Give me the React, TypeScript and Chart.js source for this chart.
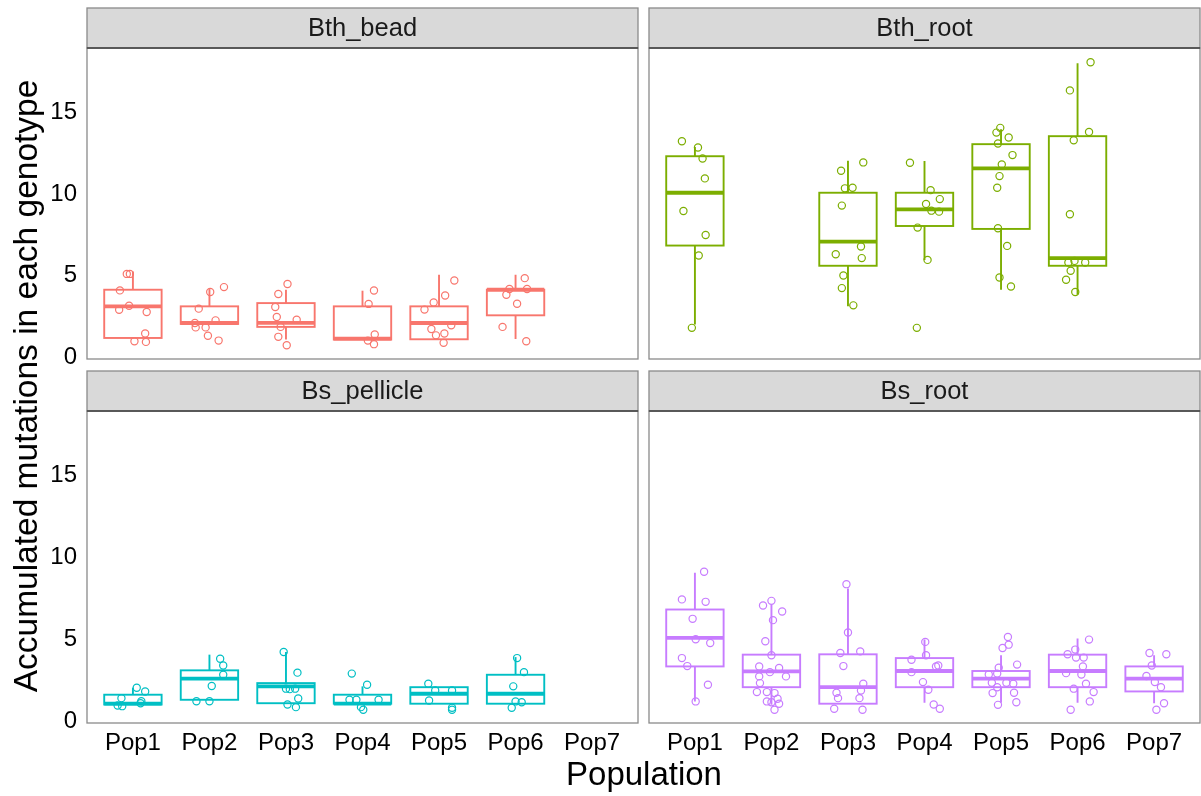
import React, { useEffect, useRef } from 'react';
import { Chart, registerables } from 'chart.js';
Chart.register(...registerables);

// ---------------- data ----------------
const categories = ['Pop1', 'Pop2', 'Pop3', 'Pop4', 'Pop5', 'Pop6', 'Pop7'];
const yTickValues = [0, 5, 10, 15];
const yMin = -0.12;
const yMax = 18.96;
const xTitle = 'Population';
const yTitle = 'Accumulated mutations in each genotype';
const facetNames = ['Bth_bead', 'Bth_root', 'Bs_pellicle', 'Bs_root'];

// box stats per population: [lower whisker, q1, median, q3, upper whisker]
const bthBeadBoxes: (number[] | null)[] = [
  [1.15, 1.17, 3.11, 4.13, 5.25],
  [2.03, 2.03, 2.09, 3.11, 4.17],
  [1.07, 1.85, 2.1, 3.31, 4.13],
  [1.07, 1.07, 1.13, 3.11, 4.07],
  [1.09, 1.09, 2.09, 3.11, 5.05],
  [1.1, 2.56, 4.13, 4.13, 5.05],
  null,
];
// jittered points: [population index, horizontal jitter, value]
const bthBeadPoints: number[][] = [
  [1, -0.08, 5.1], [1, -0.04, 5.1], [1, -0.17, 4.09], [1, -0.05, 3.15], [1, -0.18, 2.9], [1, 0.18, 2.76], [1, 0.16, 1.44], [1, 0.02, 0.97], [1, 0.17, 0.93],
  [2, 0.01, 3.99], [2, 0.19, 4.29], [2, -0.14, 2.97], [2, 0.08, 2.25], [2, -0.19, 2.09], [2, -0.18, 1.82], [2, -0.05, 1.82], [2, -0.02, 1.31], [2, 0.12, 1.01],
  [3, 0.02, 4.48], [3, -0.1, 3.87], [3, -0.14, 3.07], [3, -0.12, 2.46], [3, 0.14, 2.29], [3, -0.07, 1.85], [3, -0.1, 1.24], [3, 0.01, 0.72],
  [4, 0.15, 4.08], [4, 0.08, 3.26], [4, 0.16, 1.38], [4, 0.07, 1.01], [4, 0.15, 0.79],
  [5, 0.2, 4.7], [5, 0.08, 3.78], [5, -0.07, 3.35], [5, -0.19, 2.91], [5, 0.16, 1.95], [5, -0.1, 1.72], [5, 0.07, 1.44], [5, -0.04, 1.33], [5, 0.06, 0.87],
  [6, 0.12, 4.84], [6, -0.08, 4.17], [6, 0.15, 4.17], [6, -0.12, 3.82], [6, 0.02, 3.27], [6, -0.17, 1.85], [6, 0.14, 0.97],
];

const bthRootBoxes: (number[] | null)[] = [
  [2.0, 6.84, 10.08, 12.32, 12.89],
  null,
  [3.11, 5.6, 7.08, 10.08, 12.04],
  [5.96, 8.04, 9.06, 10.08, 12.02],
  [4.13, 7.86, 11.57, 13.06, 13.98],
  [3.82, 5.6, 6.07, 13.55, 18.03],
  null,
];
const bthRootPoints: number[][] = [
  [1, -0.17, 13.24], [1, 0.04, 12.86], [1, 0.1, 12.18], [1, 0.13, 10.96], [1, -0.15, 8.96], [1, 0.14, 7.49], [1, 0.05, 6.23], [1, -0.04, 1.79],
  [3, 0.2, 11.94], [3, -0.09, 11.43], [3, -0.04, 10.35], [3, 0.06, 10.39], [3, -0.08, 9.29], [3, 0.17, 6.78], [3, -0.16, 6.31], [3, 0.18, 6.07], [3, -0.06, 5.0], [3, -0.08, 4.23], [3, 0.07, 3.17],
  [4, -0.19, 11.92], [4, 0.08, 10.24], [4, 0.2, 9.69], [4, 0.02, 9.39], [4, 0.09, 8.98], [4, 0.19, 8.92], [4, -0.09, 7.94], [4, 0.04, 5.96], [4, -0.1, 1.79],
  [5, -0.01, 14.06], [5, -0.06, 13.77], [5, 0.1, 13.47], [5, -0.04, 13.1], [5, 0.15, 12.39], [5, 0.01, 11.81], [5, -0.02, 11.1], [5, -0.05, 10.39], [5, -0.04, 7.9], [5, 0.08, 6.82], [5, -0.02, 4.88], [5, 0.13, 4.33],
  [6, 0.17, 18.09], [6, -0.1, 16.36], [6, 0.15, 13.81], [6, -0.05, 13.3], [6, -0.1, 8.76], [6, -0.12, 5.8], [6, -0.04, 5.9], [6, 0.1, 5.8], [6, -0.09, 5.29], [6, -0.15, 4.74], [6, -0.03, 3.99],
];

const bsPellicleBoxes: (number[] | null)[] = [
  [1.01, 1.01, 1.06, 1.61, 2.04],
  [1.3, 1.3, 2.59, 3.1, 4.06],
  [1.09, 1.09, 2.12, 2.32, 4.22],
  [1.06, 1.06, 1.06, 1.61, 2.12],
  [1.06, 1.06, 1.67, 2.07, 2.07],
  [1.06, 1.06, 1.67, 2.83, 3.91],
  null,
];
const bsPelliclePoints: number[][] = [
  [1, 0.05, 2.04], [1, 0.16, 1.81], [1, -0.15, 1.4], [1, 0.11, 1.21], [1, 0.1, 1.09], [1, -0.2, 0.95], [1, -0.14, 0.91],
  [2, 0.14, 3.81], [2, 0.18, 3.4], [2, 0.18, 2.83], [2, 0.03, 2.14], [2, -0.17, 1.21], [2, 0.0, 1.21],
  [3, -0.03, 4.22], [3, 0.15, 2.96], [3, 0.0, 1.98], [3, 0.05, 1.95], [3, 0.12, 1.98], [3, 0.16, 1.38], [3, 0.02, 1.01], [3, 0.13, 0.85],
  [4, -0.14, 2.9], [4, 0.06, 2.22], [4, -0.17, 1.3], [4, -0.08, 1.3], [4, 0.21, 1.3], [4, -0.02, 0.85], [4, 0.01, 0.69],
  [5, -0.14, 2.28], [5, -0.05, 1.87], [5, 0.17, 1.87], [5, -0.13, 1.26], [5, 0.17, 0.81], [5, 0.17, 0.69],
  [6, 0.02, 3.85], [6, 0.11, 2.99], [6, -0.03, 2.12], [6, 0.0, 1.2], [6, 0.08, 1.15], [6, -0.05, 0.81],
];

const bsRootBoxes: (number[] | null)[] = [
  [1.2, 3.34, 5.08, 6.82, 9.07],
  [1.0, 2.07, 3.04, 4.06, 7.09],
  [1.06, 1.06, 2.07, 4.08, 8.11],
  [1.12, 2.07, 3.06, 3.85, 4.98],
  [1.12, 2.07, 2.59, 3.06, 4.02],
  [1.12, 2.07, 3.06, 4.06, 5.04],
  [1.09, 1.81, 2.59, 3.34, 4.02],
];
const bsRootPoints: number[][] = [
  [1, 0.12, 9.13], [1, -0.17, 7.44], [1, 0.14, 7.29], [1, -0.03, 6.25], [1, 0.01, 5.0], [1, 0.2, 4.77], [1, -0.17, 3.85], [1, -0.1, 3.36], [1, 0.17, 2.22], [1, 0.01, 1.2],
  [2, 0.0, 7.35], [2, -0.11, 7.07], [2, 0.14, 6.7], [2, 0.02, 6.17], [2, -0.08, 4.88], [2, 0.0, 4.02], [2, -0.16, 3.34], [2, -0.02, 2.99], [2, 0.1, 3.24], [2, 0.19, 2.73],
  [2, -0.16, 2.73], [2, -0.15, 2.32], [2, -0.19, 1.77], [2, -0.06, 1.77], [2, 0.04, 1.71], [2, 0.08, 1.36], [2, -0.06, 1.2], [2, 0.0, 1.15], [2, 0.1, 1.06], [2, 0.04, 0.69],
  [3, -0.02, 8.37], [3, 0.0, 5.41], [3, -0.1, 4.16], [3, 0.16, 4.26], [3, -0.06, 3.36], [3, 0.2, 2.28], [3, -0.15, 1.73], [3, 0.17, 1.87], [3, -0.13, 1.4], [3, 0.15, 1.4], [3, -0.18, 0.75], [3, 0.19, 0.69],
  [4, 0.01, 4.84], [4, 0.02, 4.02], [4, -0.17, 3.75], [4, 0.15, 3.34], [4, 0.18, 3.4], [4, -0.17, 2.99], [4, -0.02, 2.38], [4, 0.05, 1.91], [4, 0.12, 1.01], [4, 0.2, 0.75],
  [5, 0.09, 5.14], [5, 0.1, 4.67], [5, 0.02, 4.47], [5, 0.21, 3.45], [5, -0.03, 3.26], [5, -0.16, 2.85], [5, -0.05, 2.9], [5, -0.12, 2.34], [5, 0.07, 2.34], [5, 0.16, 2.28], [5, -0.05, 2.07], [5, -0.11, 1.71], [5, 0.17, 1.73], [5, 0.2, 1.15], [5, -0.04, 0.99],
  [6, 0.15, 4.98], [6, -0.03, 4.37], [6, -0.13, 4.08], [6, 0.08, 3.88], [6, -0.02, 3.88], [6, 0.07, 3.34], [6, 0.05, 2.85], [6, -0.15, 2.93], [6, 0.11, 2.28], [6, -0.05, 1.98], [6, 0.21, 1.77], [6, 0.16, 1.2], [6, -0.09, 0.69],
  [7, -0.06, 4.16], [7, 0.16, 4.08], [7, -0.03, 3.4], [7, -0.1, 2.75], [7, 0.01, 2.38], [7, 0.09, 2.07], [7, 0.13, 1.09], [7, 0.03, 0.69],
];

// ---------------- style ----------------
const FONT = '"Liberation Sans", Arial, Helvetica, sans-serif';
const facetColors = ['#F8766D', '#7CAE00', '#00BFC4', '#C77CFF'];
const BOX_HALF = 0.375;
const STRIP_H = 40;

type Rect = { left: number; top: number; w: number; h: number };
type Area = { l: number; t: number; r: number; b: number };

const facetPlugin = {
  id: 'facet',
  beforeDatasetsDraw(chart: any, _args: any, opts: any) {
    const { ctx, scales } = chart;
    const x = scales.x;
    const y = scales.y;
    ctx.save();
    ctx.strokeStyle = opts.color;
    ctx.lineCap = 'butt';
    (opts.boxes as (number[] | null)[]).forEach((b, i) => {
      if (!b) return;
      const [lo, q1, med, q3, hi] = b;
      const xc = x.getPixelForValue(i + 1);
      const xl = x.getPixelForValue(i + 1 - BOX_HALF);
      const xr = x.getPixelForValue(i + 1 + BOX_HALF);
      const pLo = y.getPixelForValue(lo);
      const pQ1 = y.getPixelForValue(q1);
      const pMed = y.getPixelForValue(med);
      const pQ3 = y.getPixelForValue(q3);
      const pHi = y.getPixelForValue(hi);
      ctx.lineWidth = 1.9;
      ctx.beginPath();
      ctx.moveTo(xc, pQ3);
      ctx.lineTo(xc, pHi);
      ctx.moveTo(xc, pQ1);
      ctx.lineTo(xc, pLo);
      ctx.stroke();
      ctx.strokeRect(xl, pQ3, xr - xl, pQ1 - pQ3);
      ctx.lineWidth = 3.8;
      ctx.beginPath();
      ctx.moveTo(xl, pMed);
      ctx.lineTo(xr, pMed);
      ctx.stroke();
    });
    ctx.restore();
  },
  afterDraw(chart: any, _args: any, opts: any) {
    const { ctx, chartArea } = chart;
    const { left, right, top, bottom } = chartArea;
    ctx.save();
    const sTop = top - STRIP_H;
    ctx.fillStyle = '#D9D9D9';
    ctx.fillRect(left, sTop, right - left, STRIP_H);
    ctx.strokeStyle = '#8a8a8a';
    ctx.lineWidth = 1.3;
    ctx.strokeRect(left, sTop, right - left, STRIP_H);
    ctx.fillStyle = '#1A1A1A';
    ctx.font = `25.5px ${FONT}`;
    ctx.textAlign = 'center';
    ctx.textBaseline = 'middle';
    ctx.fillText(opts.title, (left + right) / 2, sTop + STRIP_H / 2 + 1);
    ctx.strokeStyle = '#8a8a8a';
    ctx.lineWidth = 1.3;
    ctx.strokeRect(left, top, right - left, bottom - top);
    ctx.strokeStyle = '#444444';
    ctx.lineWidth = 1.5;
    ctx.beginPath();
    ctx.moveTo(left, top);
    ctx.lineTo(right, top);
    ctx.stroke();
    ctx.restore();
  },
};

type PanelProps = {
  title: string;
  color: string;
  boxes: (number[] | null)[];
  points: number[][];
  canvas: Rect;
  area: Area;
  showX: boolean;
  showY: boolean;
};

const X_AXIS_H = 40;

function Panel({ title, color, boxes, points, canvas, area, showX, showY }: PanelProps) {
  const ref = useRef<HTMLCanvasElement>(null);
  useEffect(() => {
    if (!ref.current) return;
    const ax = {
      l: area.l - canvas.left,
      t: area.t - canvas.top,
      r: area.r - canvas.left,
      b: area.b - canvas.top,
    };
    const padding = {
      left: showY ? 0 : ax.l,
      top: ax.t,
      right: canvas.w - ax.r,
      bottom: showX ? canvas.h - ax.b - X_AXIS_H : canvas.h - ax.b,
    };
    const zeroPad = (s: any) => {
      s.paddingLeft = 0;
      s.paddingRight = 0;
      s.paddingTop = 0;
      s.paddingBottom = 0;
    };
    const chart = new Chart(ref.current, {
      type: 'scatter',
      data: {
        datasets: [
          {
            data: points.map((p) => ({ x: p[0] + p[1], y: p[2] })),
            pointStyle: 'circle',
            pointRadius: 3.6,
            pointBorderWidth: 1.2,
            pointBackgroundColor: 'rgba(0,0,0,0)',
            pointBorderColor: color,
            showLine: false,
          } as any,
        ],
      },
      options: {
        animation: false,
        responsive: false,
        maintainAspectRatio: false,
        devicePixelRatio: 1,
        events: [],
        layout: { padding, autoPadding: false },
        plugins: {
          legend: { display: false },
          tooltip: { enabled: false },
          facet: { title, color, boxes },
        } as any,
        scales: {
          x: {
            type: 'linear',
            min: 0.4,
            max: 7.6,
            display: showX,
            grid: { display: false, drawTicks: false, tickLength: 0 },
            border: { display: false },
            afterBuildTicks: (s: any) => {
              s.ticks = categories.map((_, i) => ({ value: i + 1 }));
            },
            afterFit: (s: any) => {
              s.height = showX ? X_AXIS_H : 0;
              zeroPad(s);
            },
            ticks: {
              autoSkip: false,
              maxRotation: 0,
              minRotation: 0,
              padding: 6,
              color: '#000000',
              font: { family: FONT, size: 24 },
              callback: (v: any) => categories[Math.round(Number(v)) - 1] ?? '',
            },
          },
          y: {
            type: 'linear',
            min: yMin,
            max: yMax,
            display: showY,
            grid: { display: false, drawTicks: false, tickLength: 0 },
            border: { display: false },
            afterBuildTicks: (s: any) => {
              s.ticks = yTickValues.map((v) => ({ value: v }));
            },
            afterFit: (s: any) => {
              s.width = showY ? ax.l : 0;
              zeroPad(s);
            },
            ticks: {
              padding: 10,
              color: '#000000',
              font: { family: FONT, size: 24 },
              callback: (v: any) => String(v),
            },
          },
        },
      } as any,
      plugins: [facetPlugin as any],
    });
    return () => chart.destroy();
  }, []);
  return (
    <canvas
      ref={ref}
      width={canvas.w}
      height={canvas.h}
      style={{ position: 'absolute', left: canvas.left, top: canvas.top, width: canvas.w, height: canvas.h }}
    />
  );
}

export default function App() {
  const panels: PanelProps[] = [
    {
      title: facetNames[0], color: facetColors[0], boxes: bthBeadBoxes, points: bthBeadPoints,
      canvas: { left: 0, top: 0, w: 643, h: 365 }, area: { l: 87, t: 48, r: 638, b: 359 }, showX: false, showY: true,
    },
    {
      title: facetNames[1], color: facetColors[1], boxes: bthRootBoxes, points: bthRootPoints,
      canvas: { left: 643, top: 0, w: 558, h: 365 }, area: { l: 649, t: 48, r: 1200, b: 359 }, showX: false, showY: false,
    },
    {
      title: facetNames[2], color: facetColors[2], boxes: bsPellicleBoxes, points: bsPelliclePoints,
      canvas: { left: 0, top: 365, w: 643, h: 431 }, area: { l: 87, t: 411, r: 638, b: 723 }, showX: true, showY: true,
    },
    {
      title: facetNames[3], color: facetColors[3], boxes: bsRootBoxes, points: bsRootPoints,
      canvas: { left: 643, top: 365, w: 558, h: 431 }, area: { l: 649, t: 411, r: 1200, b: 723 }, showX: true, showY: false,
    },
  ];
  return (
    <div style={{ position: 'fixed', left: 0, top: 0, width: 1201, height: 796, background: '#ffffff', overflow: 'hidden', fontFamily: FONT }}>
      {panels.map((p) => (
        <Panel key={p.title} {...p} />
      ))}
      <div
        style={{
          position: 'absolute', left: 9, top: 386 + 400, width: 800, height: 34,
          transformOrigin: 'left top', transform: 'rotate(-90deg)', textAlign: 'center',
          fontSize: 33.5, lineHeight: '34px', color: '#000', whiteSpace: 'nowrap',
        }}
      >
        {yTitle}
      </div>
      <div
        style={{
          position: 'absolute', left: 344, top: 757, width: 600, height: 34, textAlign: 'center',
          fontSize: 33, lineHeight: '34px', color: '#000', whiteSpace: 'nowrap',
        }}
      >
        {xTitle}
      </div>
    </div>
  );
}
